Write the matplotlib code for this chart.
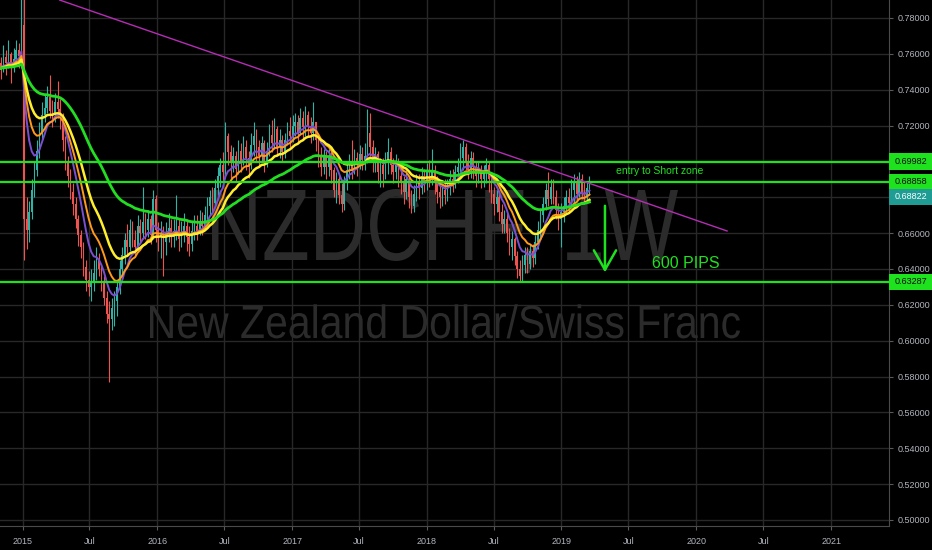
"""NZDCHF weekly chart with EMAs, a falling trendline and short-zone levels."""

import matplotlib

matplotlib.use("Agg")
import matplotlib.dates as mdates  # noqa: E402
import matplotlib.pyplot as plt  # noqa: E402
import numpy as np  # noqa: E402
import pandas as pd  # noqa: E402
from matplotlib.font_manager import FontProperties  # noqa: E402
from matplotlib.patches import PathPatch, Rectangle  # noqa: E402
from matplotlib.textpath import TextPath  # noqa: E402
from matplotlib.transforms import Affine2D  # noqa: E402

# weekly candles, first week starting 2014-11-03
START = "2014-11-03"
FIRST_OPEN = 0.755
CLOSE = [
    0.752, 0.758, 0.755, 0.760, 0.753, 0.757, 0.762, 0.759, 0.776,
    0.668, 0.662, 0.672, 0.684, 0.695, 0.706, 0.716, 0.726, 0.730, 0.736, 0.728,
    0.726, 0.733, 0.729, 0.724, 0.712, 0.700, 0.692, 0.683, 0.676, 0.668,
    0.659, 0.652, 0.641, 0.634, 0.630, 0.633, 0.638, 0.645, 0.640, 0.632,
    0.624, 0.615, 0.612, 0.618, 0.622, 0.630, 0.640, 0.648, 0.656, 0.652,
    0.662, 0.656, 0.652, 0.664, 0.660, 0.666, 0.662, 0.668, 0.659, 0.679,
    0.662, 0.658, 0.660, 0.655, 0.660, 0.663, 0.658, 0.661, 0.664, 0.657,
    0.660, 0.664, 0.658, 0.654, 0.661, 0.664, 0.661, 0.666, 0.664, 0.670,
    0.675, 0.680, 0.677, 0.685, 0.692, 0.698, 0.694, 0.714, 0.705, 0.699,
    0.703, 0.696, 0.706, 0.700, 0.708, 0.702, 0.698, 0.709, 0.714, 0.708,
    0.703, 0.710, 0.700, 0.706, 0.715, 0.710, 0.718, 0.708, 0.712, 0.705,
    0.712, 0.717, 0.714, 0.720, 0.722, 0.716, 0.724, 0.719, 0.726, 0.720,
    0.716, 0.722, 0.712, 0.703, 0.697, 0.703, 0.697, 0.702, 0.695, 0.684,
    0.690, 0.681, 0.676, 0.688, 0.695, 0.700, 0.696, 0.702, 0.699, 0.704,
    0.701, 0.703, 0.716, 0.708, 0.700, 0.704, 0.694, 0.698, 0.693, 0.700,
    0.705, 0.698, 0.694, 0.699, 0.692, 0.688, 0.683, 0.690, 0.680, 0.675,
    0.682, 0.688, 0.685, 0.692, 0.688, 0.695, 0.690, 0.695, 0.688, 0.683,
    0.680, 0.684, 0.681, 0.686, 0.690, 0.688, 0.694, 0.697, 0.702, 0.708,
    0.700, 0.695, 0.702, 0.697, 0.692, 0.696, 0.690, 0.694, 0.698, 0.690,
    0.682, 0.676, 0.680, 0.672, 0.665, 0.668, 0.660, 0.652, 0.657, 0.647,
    0.640, 0.636, 0.642, 0.648, 0.643, 0.650, 0.646, 0.655, 0.662, 0.670,
    0.676, 0.684, 0.679, 0.686, 0.680, 0.673, 0.668, 0.672, 0.675, 0.680,
    0.677, 0.684, 0.688, 0.682, 0.690, 0.683, 0.680, 0.685, 0.688,
]
HIGH = [
    0.758, 0.765, 0.762, 0.768, 0.761, 0.763, 0.768, 0.766, 0.798,
    0.800, 0.680, 0.678, 0.690, 0.700, 0.712, 0.722, 0.733, 0.737, 0.742, 0.748,
    0.734, 0.738, 0.745, 0.735, 0.727, 0.714, 0.703, 0.696, 0.688, 0.680,
    0.670, 0.662, 0.655, 0.645, 0.639, 0.640, 0.645, 0.652, 0.649, 0.642,
    0.636, 0.628, 0.622, 0.624, 0.628, 0.633, 0.645, 0.652, 0.660, 0.665,
    0.668, 0.667, 0.662, 0.670, 0.668, 0.686, 0.671, 0.673, 0.670, 0.684,
    0.681, 0.666, 0.667, 0.664, 0.666, 0.671, 0.668, 0.668, 0.681, 0.668,
    0.667, 0.671, 0.668, 0.664, 0.667, 0.670, 0.670, 0.673, 0.672, 0.675,
    0.680, 0.684, 0.686, 0.690, 0.697, 0.702, 0.705, 0.722, 0.716, 0.709,
    0.708, 0.706, 0.712, 0.710, 0.714, 0.712, 0.706, 0.716, 0.722, 0.718,
    0.712, 0.714, 0.712, 0.711, 0.721, 0.723, 0.724, 0.720, 0.718, 0.715,
    0.716, 0.722, 0.725, 0.726, 0.727, 0.726, 0.730, 0.728, 0.731, 0.728,
    0.725, 0.733, 0.722, 0.714, 0.708, 0.707, 0.706, 0.707, 0.705, 0.697,
    0.694, 0.693, 0.688, 0.692, 0.699, 0.704, 0.712, 0.707, 0.705, 0.709,
    0.708, 0.710, 0.729, 0.727, 0.712, 0.708, 0.706, 0.702, 0.702, 0.705,
    0.713, 0.708, 0.702, 0.704, 0.702, 0.696, 0.692, 0.695, 0.692, 0.684,
    0.687, 0.693, 0.693, 0.697, 0.696, 0.699, 0.701, 0.707, 0.698, 0.692,
    0.689, 0.688, 0.690, 0.690, 0.695, 0.696, 0.698, 0.702, 0.710, 0.712,
    0.710, 0.704, 0.706, 0.705, 0.700, 0.700, 0.698, 0.698, 0.702, 0.700,
    0.692, 0.686, 0.684, 0.683, 0.676, 0.673, 0.671, 0.663, 0.661, 0.658,
    0.650, 0.645, 0.648, 0.652, 0.652, 0.654, 0.654, 0.659, 0.667, 0.674,
    0.680, 0.688, 0.694, 0.690, 0.690, 0.684, 0.677, 0.677, 0.680, 0.684,
    0.685, 0.690, 0.693, 0.692, 0.694, 0.693, 0.689, 0.689, 0.692,
]
LOW = [
    0.746, 0.750, 0.748, 0.752, 0.744, 0.750, 0.755, 0.752, 0.757,
    0.645, 0.651, 0.655, 0.668, 0.680, 0.692, 0.702, 0.712, 0.722, 0.727, 0.724,
    0.719, 0.722, 0.724, 0.718, 0.706, 0.695, 0.686, 0.679, 0.670, 0.663,
    0.653, 0.646, 0.636, 0.628, 0.625, 0.622, 0.628, 0.634, 0.636, 0.628,
    0.620, 0.610, 0.577, 0.606, 0.608, 0.614, 0.626, 0.636, 0.643, 0.648,
    0.650, 0.652, 0.647, 0.650, 0.655, 0.657, 0.657, 0.658, 0.654, 0.657,
    0.655, 0.650, 0.646, 0.636, 0.648, 0.655, 0.652, 0.652, 0.656, 0.650,
    0.652, 0.655, 0.650, 0.647, 0.650, 0.656, 0.656, 0.659, 0.659, 0.662,
    0.666, 0.670, 0.672, 0.675, 0.681, 0.686, 0.688, 0.692, 0.698, 0.690,
    0.694, 0.689, 0.693, 0.694, 0.698, 0.695, 0.691, 0.696, 0.703, 0.700,
    0.697, 0.700, 0.694, 0.697, 0.703, 0.705, 0.707, 0.703, 0.702, 0.700,
    0.702, 0.709, 0.708, 0.711, 0.714, 0.710, 0.715, 0.712, 0.714, 0.714,
    0.710, 0.712, 0.706, 0.697, 0.692, 0.693, 0.690, 0.692, 0.688, 0.680,
    0.677, 0.676, 0.672, 0.673, 0.684, 0.690, 0.690, 0.693, 0.692, 0.696,
    0.695, 0.695, 0.699, 0.703, 0.694, 0.694, 0.688, 0.686, 0.686, 0.690,
    0.693, 0.693, 0.688, 0.690, 0.686, 0.682, 0.676, 0.679, 0.674, 0.671,
    0.672, 0.678, 0.679, 0.682, 0.683, 0.684, 0.686, 0.687, 0.682, 0.677,
    0.674, 0.675, 0.676, 0.678, 0.681, 0.683, 0.685, 0.688, 0.692, 0.695,
    0.695, 0.690, 0.691, 0.690, 0.686, 0.688, 0.685, 0.686, 0.688, 0.683,
    0.677, 0.670, 0.672, 0.667, 0.660, 0.660, 0.655, 0.648, 0.645, 0.642,
    0.635, 0.633, 0.633, 0.638, 0.638, 0.640, 0.641, 0.643, 0.651, 0.658,
    0.666, 0.673, 0.675, 0.676, 0.676, 0.668, 0.662, 0.652, 0.666, 0.671,
    0.672, 0.674, 0.677, 0.678, 0.680, 0.679, 0.676, 0.677, 0.681,
]

EMA_PERIODS = [8, 13, 21, 50]
EMA_COLORS = ["#7a4fd0", "#ff9a1a", "#ffee2e", "#22dd22"]
EMA_WIDTHS = [1.4, 1.4, 1.8, 2.0]

LEVELS = [0.69982, 0.68858, 0.63287]
LAST_PRICE = 0.68822
TREND_DATES = ["2015-04-12", "2020-03-25"]
TREND_PRICES = [0.7900, 0.6612]

UP, DOWN = "#2fb3a5", "#ef5350"
GREEN = "#1fe21f"
BG = "#000000"
W, H = 932, 550


def watermark(ax, text, left, right, baseline, cap):
    """Draw text squeezed into a pixel box (the chart font is condensed)."""
    prop = FontProperties(family="Liberation Sans")
    tp = TextPath((0, 0), text, size=100, prop=prop)
    ext = tp.get_extents()
    cap_h = TextPath((0, 0), "N", size=100, prop=prop).get_extents().height
    tr = (Affine2D().translate(-ext.x0, 0)
          .scale((right - left) / ext.width, cap / cap_h)
          .translate(left, H - baseline))
    ax.add_patch(PathPatch(tp, transform=tr, facecolor="#2b2b2b",
                           edgecolor="none", zorder=0.6))


def main():
    dates = pd.date_range(START, periods=len(CLOSE), freq="W-MON")
    close = np.array(CLOSE)
    opn = np.concatenate([[FIRST_OPEN], close[:-1]])
    high, low = np.array(HIGH), np.array(LOW)
    x = mdates.date2num(dates)

    fig = plt.figure(figsize=(W / 100, H / 100), dpi=100, facecolor=BG)
    ax = fig.add_axes([0, 1 - 526 / H, 889 / W, 526 / H])
    ax.set_facecolor(BG)

    watermark(ax, "NZDCHF, 1W", 212, 678, 260, 70)
    watermark(ax, "New Zealand Dollar/Swiss Franc", 150, 740, 338, 32)

    # candles
    colors = np.where(close >= opn, UP, DOWN)
    ax.vlines(x, low, high, colors=colors, lw=0.8, zorder=2)
    body = np.maximum(np.abs(close - opn), 0.0004)
    ax.bar(x, body, bottom=np.minimum(opn, close), width=4.2, color=colors,
           linewidth=0, zorder=3)

    s = pd.Series(close)
    for period, c, lw in zip(EMA_PERIODS, EMA_COLORS, EMA_WIDTHS):
        ax.plot(x, s.ewm(span=period, adjust=False).mean(), color=c, lw=lw,
                zorder=4)

    for lvl in LEVELS:
        ax.axhline(lvl, color=GREEN, lw=1.6, zorder=5)

    td = mdates.date2num(pd.to_datetime(TREND_DATES))
    ax.plot(td, TREND_PRICES, color="#b52db5", lw=1.0, zorder=5)

    # annotations
    arrow_x = mdates.date2num(pd.Timestamp("2019-04-29"))
    ax.annotate("", xy=(arrow_x, 0.6366), xytext=(arrow_x, 0.6768),
                arrowprops=dict(arrowstyle="->,head_length=1.4,head_width=0.8",
                                color=GREEN, lw=1.8), zorder=6)
    ax.text(mdates.date2num(pd.Timestamp("2019-12-05")), 0.6433, "600 PIPS",
            ha="center", va="center", fontsize=11.5, color=GREEN,
            family=["Liberation Sans"], zorder=6)
    ax.text(mdates.date2num(pd.Timestamp("2019-09-25")), 0.6947,
            "entry to Short zone", ha="center", va="center", fontsize=7.5,
            color=GREEN, family=["Liberation Sans"], zorder=6)

    # axes
    ax.yaxis.tick_right()
    yticks = np.round(np.arange(0.50, 0.7801, 0.02), 2)
    ax.set_yticks(yticks)
    # 0.70 and 0.68 sit behind the price labels on the scale
    ax.set_yticklabels(["" if v in (0.70, 0.68) else f"{v:.5f}" for v in yticks])
    ticks = [pd.Timestamp(f"{y}-{m:02d}-01") for y in range(2015, 2022)
             for m in (1, 7)][:-1]
    ax.set_xticks(mdates.date2num(ticks))
    ax.set_xticklabels([str(t.year) if t.month == 1 else "Jul" for t in ticks])
    ax.set_xlim(mdates.date2num(pd.Timestamp("2014-11-01")),
                mdates.date2num(pd.Timestamp("2021-06-07")))
    ax.set_ylim(0.49664, 0.79004)
    for lab in ax.get_xticklabels() + ax.get_yticklabels():
        lab.set_family(["Liberation Sans"])
    ax.tick_params(colors="#5a5a5a", labelcolor="#b2b5be", labelsize=6.5,
                   length=3, width=0.8)
    ax.tick_params(axis="y", pad=3)
    ax.tick_params(axis="x", pad=5)
    ax.grid(color="#282828", lw=1.0, zorder=0)
    ax.set_axisbelow(True)
    for side in ("top", "left"):
        ax.spines[side].set_visible(False)
    for side in ("right", "bottom"):
        ax.spines[side].set_color("#4a4a4a")

    # price labels on the scale
    trans = ax.get_yaxis_transform()
    box_w, box_h = 43 / 889, 0.0092
    labels = [(v, v, GREEN, "#0a0a0a") for v in LEVELS]
    labels.append((LAST_PRICE, LEVELS[1] - 0.0084, "#1f9c94", "#ffffff"))
    for value, pos, fc, tc in labels:
        ax.add_patch(Rectangle((1.0, pos - box_h / 2), box_w, box_h,
                               transform=trans, facecolor=fc, edgecolor="none",
                               clip_on=False, zorder=10))
        ax.text(1.0 + 6 / 889, pos, f"{value:.5f}", transform=trans,
                ha="left", va="center", fontsize=6.5, color=tc,
                family=["Liberation Sans"], clip_on=False, zorder=11)

    fig.savefig("out.png", dpi=100, facecolor=BG)
    plt.close(fig)


if __name__ == "__main__":
    main()
